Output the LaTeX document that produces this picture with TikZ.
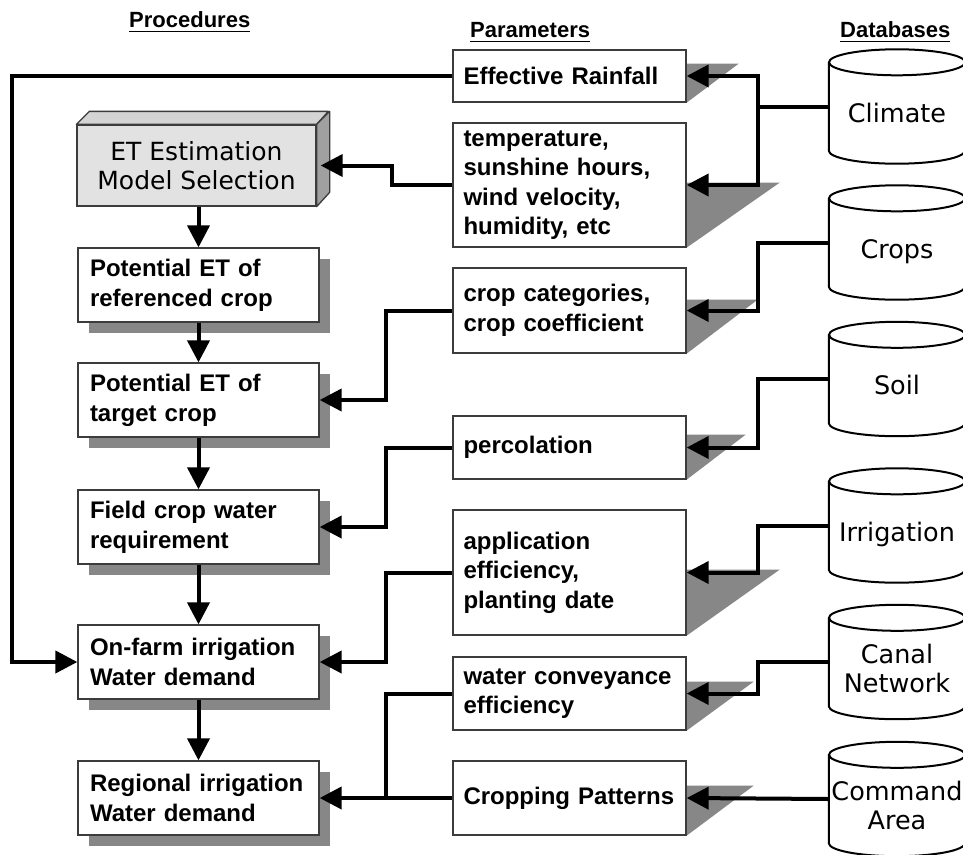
\documentclass[tikz,border=0pt]{standalone}
\usepackage{fontspec}
\setmainfont{Liberation Sans}
\newfontfamily\dvfont{DejaVu Sans}
\usetikzlibrary{arrows.meta,shadows,calc,backgrounds}
\definecolor{shadowgray}{RGB}{135,135,135}
\definecolor{etfront}{RGB}{226,226,226}
\definecolor{ettop}{RGB}{212,212,212}
\definecolor{etside}{RGB}{160,160,160}
\definecolor{boxline}{RGB}{60,60,60}
\newcommand\cyltext[1]{\raisebox{-10pt}[\height][\depth]{\begin{tabular}{@{}c@{}}#1\end{tabular}}}
\begin{document}
\begin{tikzpicture}[x=1pt,y=-1pt,
  procbox/.style={draw=boxline, line width=1.3pt, fill=white, minimum width=241pt,
    minimum height=74pt, text width=217pt, inner xsep=12pt, inner ysep=0pt, align=left,
    font=\bfseries\fontsize{24}{30}\selectfont,
    drop shadow={shadow xshift=11pt, shadow yshift=-11pt, fill=shadowgray, opacity=1}},
  parambox/.style={draw=boxline, line width=1.3pt, fill=white, minimum width=233pt,
    text width=212pt, inner xsep=10.5pt, inner ysep=0pt, align=left,
    font=\bfseries\fontsize{24}{29.5}\selectfont},
  cyl/.style={rectangle, minimum width=136pt, minimum height=114pt, inner sep=0pt,
    font=\dvfont\fontsize{25.5}{29}\selectfont},
  cylline/.style={line width=2pt, draw=black},
  header/.style={anchor=base west, inner sep=0pt, font=\bfseries\fontsize{22}{26}\selectfont},
  conn/.style={line width=4pt, draw=black, line join=miter},
  arr/.style={-{Triangle[length=22pt,width=22pt]}},
  ul/.style={line width=1.5pt}
]
\useasboundingbox (0,0) rectangle (963,854);
\begin{pgfonlayer}{background}
\fill[white] (0,0) rectangle (963,854);
\end{pgfonlayer}
\clip (0,0) rectangle (963,854);

% headers
\node[header] (h1) at (129,27) {Procedures};
\node[header] (h2) at (470,37) {Parameters};
\node[header] (h3) at (840,37) {Databases};
\foreach \h in {h1,h2,h3}
  \draw[ul] ([yshift=-4pt]\h.south west) -- ([yshift=-4pt]\h.south east);

% ET 3D box
\node[draw=boxline, line width=1.3pt, fill=etfront, minimum width=239pt, minimum height=81pt,
  inner sep=0pt, align=center, font=\dvfont\fontsize{25}{29}\selectfont]
  (et) at (196.5,165.5) {ET Estimation\\Model Selection};
\filldraw[fill=ettop, draw=boxline, line width=1.3pt, line join=round]
  (et.north west) -- ++(13,-13) -- ++(239,0) -- (et.north east) -- cycle;
\filldraw[fill=etside, draw=boxline, line width=1.3pt, line join=round]
  (et.north east) -- ++(13,-13) -- ++(0,81) -- (et.south east) -- cycle;

% procedure boxes
\node[procbox] (pref) at (198.5,285) {Potential ET of\\referenced crop};
\node[procbox] (ptar) at (198.5,400) {Potential ET of\\target crop};
\node[procbox] (field) at (198.5,527) {Field crop water\\requirement};
\node[procbox] (onfarm) at (198.5,662) {On-farm irrigation\\Water demand};
\node[procbox] (regional) at (198.5,798) {Regional irrigation\\Water demand};

% parameter boxes
\node[parambox, minimum height=52pt] (rain) at (569.5,76) {Effective Rainfall};
\node[parambox, minimum height=124pt] (temp) at (569.5,185) {temperature,\\sunshine hours,\\wind velocity,\\humidity, etc};
\node[parambox, minimum height=85pt] (cropcat) at (569.5,310.5) {crop categories,\\crop coefficient};
\node[parambox, minimum height=63pt] (perc) at (569.5,447.5) {percolation};
\node[parambox, minimum height=125pt] (appl) at (569.5,572.5) {application\\efficiency,\\planting date};
\node[parambox, minimum height=73pt] (conv) at (569.5,693.5) {water conveyance\\efficiency};
\node[parambox, minimum height=74pt] (patt) at (569.5,798) {Cropping Patterns};

% parameter shadows (triangles)
\begin{pgfonlayer}{background}
\foreach \n/\hh/\ww in {rain/39/52, temp/65/93, cropcat/54/71, perc/45/59, appl/66/93, conv/49/67, patt/50/67}
  \fill[shadowgray] (\n.south east) -- ++(0,-\hh) -- ++(\ww,0) -- cycle;
\end{pgfonlayer}

% databases
\node[cyl] (clim) at (897,106.5) {\cyltext{Climate}};
\node[cyl] (crops) at (897,242.5) {\cyltext{Crops}};
\node[cyl] (soil) at (897,379) {\cyltext{Soil}};
\node[cyl] (irr) at (897,525.5) {\cyltext{Irrigation}};
\node[cyl] (canal) at (897,662) {\cyltext{Canal\\Network}};
\node[cyl] (cmd) at (897,799) {\cyltext{Command\\Area}};
\foreach \n in {clim,crops,soil,irr,canal,cmd}{
  \draw[cylline] ([yshift=-13pt]\n.north) ellipse [x radius=68pt, y radius=13pt];
  \draw[cylline] ([yshift=-13pt]\n.north west) -- ([yshift=13pt]\n.south west)
    arc[start angle=180, end angle=360, x radius=68pt, y radius=13pt]
    -- ([yshift=-13pt]\n.north east);
}

% routing columns
\coordinate (fx) at (12,0);
\coordinate (px) at (386,0);
\coordinate (tx) at (392,0);
\coordinate (dbx) at (758,0);

% vertical flow
\draw[conn,arr] (et.south -| pref.north) -- (pref.north);
\draw[conn,arr] (pref) -- (ptar);
\draw[conn,arr] (ptar) -- (field);
\draw[conn,arr] (field) -- (onfarm);
\draw[conn,arr] (onfarm) -- (regional);

% databases -> parameters
\draw[conn,arr] (clim.west) -- (clim.west -| dbx) |- (rain.east);
\draw[conn,arr] (clim.west -| dbx) |- (temp.east);
\draw[conn,arr] (crops.west) -- (crops.west -| dbx) |- (cropcat.east);
\draw[conn,arr] (soil.west) -- (soil.west -| dbx) |- (perc.east);
\draw[conn,arr] (irr.west) -- (irr.west -| dbx) |- (appl.east);
\draw[conn,arr] (canal.west) -- (canal.west -| dbx) |- (conv.east);
\draw[conn,arr] (cmd.west) -- (patt.east);

% parameters -> procedures
\draw[conn,arr] (rain.west) -- (rain.west -| fx) |- (onfarm.west);
\draw[conn,arr] (temp.west) -- (temp.west -| tx) |- ([xshift=4pt]et.east);
\draw[conn,arr] (cropcat.west) -- (cropcat.west -| px) |- (ptar.east);
\draw[conn,arr] (perc.west) -- (perc.west -| px) |- (field.east);
\draw[conn,arr] (appl.west) -- (appl.west -| px) |- (onfarm.east);
\draw[conn] (conv.west) -- (conv.west -| px) -- (px |- patt.west);
\draw[conn,arr] (patt.west) -- (regional.east);
\end{tikzpicture}
\end{document}
